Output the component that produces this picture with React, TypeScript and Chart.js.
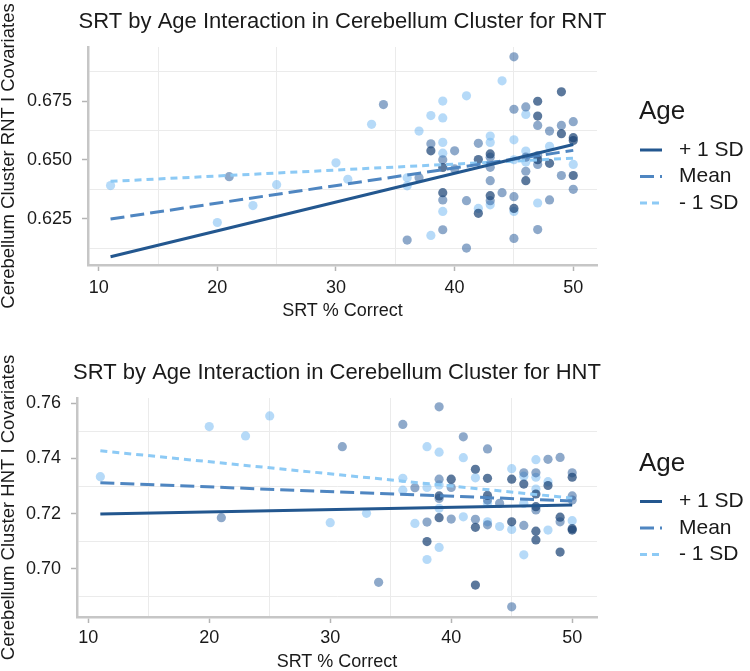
import { useEffect, useRef } from 'react';
import { Chart, registerables } from 'chart.js';

Chart.register(...registerables);

const FONT = '"Liberation Sans", Arial, Helvetica, sans-serif';
const TEXT = '#1a1a1a';
const GRID = '#ebebeb';
const AXIS = '#c6c6c6';
const TICK = '#b4b4b4';

// Shared x axis (SRT % correct)
const xMajorTicks = [10, 20, 30, 40, 50];
const xGridLines = [15, 25, 35, 45];
const xTitle = 'SRT % Correct';

// Regression lines evaluated at the ends of the observed SRT range
const fitX = [11, 50];

// Legend
const legendTitle = 'Age';
const legendLabels = ['+ 1 SD', 'Mean', '- 1 SD'];
const lineColors = ['#23578f', '#4f86c1', '#8dcaf5'];
const lineDashes: number[][] = [[], [14, 6], [7, 5]];
const pointColors = ['rgba(28, 68, 118, 0.72)', 'rgba(50, 98, 158, 0.55)', 'rgba(115, 185, 242, 0.52)'];

// ---------- RNT panel ----------
const rntTitle = 'SRT by Age Interaction in Cerebellum Cluster for RNT';
const rntYTitle = 'Cerebellum Cluster RNT I Covariates';
const rntYMajor = [0.625, 0.65, 0.675];
const rntYGrid = [0.6125, 0.6375, 0.6625, 0.6875];
const rntFitPlus = [0.6088, 0.6566];
const rntFitMean = [0.6249, 0.6541];
const rntFitMinus = [0.6409, 0.6508];

const rntPointsOlder: [number, number][] = [
  [49, 0.679], [47, 0.675], [47, 0.6687], [49, 0.6612], [50, 0.6595], [50, 0.6583],
  [38, 0.6539], [39, 0.6468], [42, 0.6502], [43, 0.6526], [43, 0.6348], [42, 0.6273],
  [45, 0.6294], [46, 0.6412], [47, 0.6501], [48, 0.6486], [50, 0.6434], [39, 0.6361],
];
const rntPointsMid: [number, number][] = [
  [45, 0.6939], [34, 0.6736], [45, 0.6716], [46, 0.6726], [47, 0.6647], [48, 0.6623],
  [49, 0.6647], [50, 0.6663], [38, 0.6569], [39, 0.6501], [40, 0.6539], [40, 0.6462],
  [42, 0.6571], [43, 0.6512], [43, 0.6469], [43, 0.6412], [43, 0.6327], [41, 0.6327],
  [41, 0.6125], [44, 0.6361], [45, 0.6344], [45, 0.6166], [46, 0.6512], [46, 0.6452],
  [47, 0.6519], [47, 0.6481], [47, 0.6204], [48, 0.633], [49, 0.6434], [50, 0.6375],
  [36, 0.6159], [37, 0.6424], [39, 0.633], [39, 0.6203], [21, 0.6429],
];
const rntPointsYounger: [number, number][] = [
  [44, 0.6837], [41, 0.6773], [39, 0.6751], [33, 0.6652], [37, 0.6623], [38, 0.6689],
  [39, 0.6679], [39, 0.6575], [39, 0.6529], [43, 0.6602], [43, 0.6575], [43, 0.6309],
  [42, 0.6294], [45, 0.6586], [45, 0.6501], [45, 0.6281], [46, 0.6694], [46, 0.6538],
  [46, 0.6491], [47, 0.6317], [48, 0.6558], [50, 0.6481], [36, 0.6424], [36, 0.639],
  [38, 0.6179], [39, 0.6281], [30, 0.6488], [11, 0.6391], [20, 0.6234], [23, 0.6306],
  [25, 0.6395], [31, 0.6418],
];

// ---------- HNT panel ----------
const hntTitle = 'SRT by Age Interaction in Cerebellum Cluster for HNT';
const hntYTitle = 'Cerebellum Cluster HNT I Covariates';
const hntYMajor = [0.7, 0.72, 0.74, 0.76];
const hntYGrid = [0.69, 0.71, 0.73, 0.75];
const hntFitPlus = [0.7198, 0.7231];
const hntFitMean = [0.7312, 0.7246];
const hntFitMinus = [0.7428, 0.7256];

const hntPointsOlder: [number, number][] = [
  [42, 0.7361], [43, 0.7328], [45, 0.7325], [46, 0.7307], [47, 0.7271], [48, 0.7302],
  [50, 0.7332], [39, 0.7264], [40, 0.7325], [43, 0.7266], [47, 0.7225], [39, 0.7185],
  [42, 0.715], [45, 0.717], [47, 0.7136], [47, 0.7104], [49, 0.7187], [50, 0.7145],
  [50, 0.714], [49, 0.706], [38, 0.7098], [42, 0.694],
];
const hntPointsMid: [number, number][] = [
  [39, 0.7588], [36, 0.7524], [41, 0.7479], [31, 0.7443], [43, 0.7435], [46, 0.7348],
  [47, 0.7348], [48, 0.7397], [49, 0.7404], [50, 0.7348], [50, 0.7264], [50, 0.7249],
  [37, 0.7294], [39, 0.7325], [39, 0.7255], [40, 0.7295], [43, 0.7249], [44, 0.7237],
  [47, 0.7213], [40, 0.718], [42, 0.7179], [43, 0.7159], [46, 0.7157], [49, 0.717],
  [34, 0.695], [45, 0.6861], [38, 0.7169], [21, 0.7185],
];
const hntPointsYounger: [number, number][] = [
  [38, 0.7443], [39, 0.7423], [41, 0.7403], [42, 0.733], [45, 0.7363], [46, 0.7336],
  [47, 0.7396], [47, 0.7332], [47, 0.7289], [48, 0.7316], [36, 0.7328], [36, 0.7285],
  [38, 0.7295], [39, 0.7304], [43, 0.7237], [46, 0.7237], [39, 0.7219], [41, 0.7188],
  [43, 0.717], [44, 0.7153], [45, 0.7142], [48, 0.714], [50, 0.7174], [46, 0.705],
  [39, 0.7077], [38, 0.7033], [33, 0.7201], [30, 0.7167], [37, 0.7164], [11, 0.7334],
  [20, 0.7516], [23, 0.7482], [25, 0.7555],
];

type PanelSpec = {
  title: string;
  yTitle: string;
  yMajor: number[];
  yGrid: number[];
  yDecimals: number;
  yMin: number;
  yMax: number;
  xMin: number;
  xMax: number;
  height: number;
  padTop: number;
  padBottom: number;
  yAxisWidth: number;
  xAxisHeight: number;
  xLabelPad: number;
  fits: number[][];
  points: [number, number][][];
};

const rntPanel: PanelSpec = {
  title: rntTitle,
  yTitle: rntYTitle,
  yMajor: rntYMajor,
  yGrid: rntYGrid,
  yDecimals: 3,
  yMin: 0.6053,
  yMax: 0.6981,
  xMin: 9.1,
  xMax: 52.0,
  height: 330,
  padTop: 47,
  padBottom: 10,
  yAxisWidth: 88,
  xAxisHeight: 55,
  xLabelPad: 6,
  fits: [rntFitPlus, rntFitMean, rntFitMinus],
  points: [rntPointsOlder, rntPointsMid, rntPointsYounger],
};

const hntPanel: PanelSpec = {
  title: hntTitle,
  yTitle: hntYTitle,
  yMajor: hntYMajor,
  yGrid: hntYGrid,
  yDecimals: 2,
  yMin: 0.6824,
  yMax: 0.762,
  xMin: 9.07,
  xMax: 52.05,
  height: 341,
  padTop: 68,
  padBottom: 0,
  yAxisWidth: 77,
  xAxisHeight: 54,
  xLabelPad: 4,
  fits: [hntFitPlus, hntFitMean, hntFitMinus],
  points: [hntPointsOlder, hntPointsMid, hntPointsYounger],
};

const CLEAR = 'rgba(0,0,0,0)';

// Panel title above the plot area and the Age legend to its right
function panelDecor(spec: PanelSpec) {
  return {
    id: 'panelDecor',
    afterDraw(chart: any) {
      const { ctx, chartArea } = chart;
      const cx = (chartArea.left + chartArea.right) / 2;
      const cy = (chartArea.top + chartArea.bottom) / 2;
      ctx.save();
      ctx.fillStyle = TEXT;
      ctx.textBaseline = 'middle';
      ctx.textAlign = 'center';
      ctx.font = `22px ${FONT}`;
      ctx.fillText(spec.title, cx, chartArea.top - 25);

      const lx = chartArea.right + 42;
      ctx.textAlign = 'left';
      ctx.font = `26px ${FONT}`;
      ctx.fillText(legendTitle, lx, cy - 44);
      ctx.font = `21px ${FONT}`;
      legendLabels.forEach((label, i) => {
        const y = cy - 6 + i * 26.5;
        ctx.strokeStyle = lineColors[i];
        ctx.lineWidth = 3;
        ctx.lineCap = 'butt';
        ctx.setLineDash(lineDashes[i]);
        ctx.beginPath();
        ctx.moveTo(lx + 1, y);
        ctx.lineTo(lx + 23, y);
        ctx.stroke();
        ctx.setLineDash([]);
        ctx.fillText(label, lx + 40, y);
      });
      ctx.restore();
    },
  };
}

function buildConfig(spec: PanelSpec): any {
  const xTicks = [...xMajorTicks, ...xGridLines].sort((a, b) => a - b);
  const yTicks = [...spec.yMajor, ...spec.yGrid].sort((a, b) => a - b);

  const fitSets = spec.fits.map((fit, i) => ({
    data: fitX.map((x, j) => ({ x, y: fit[j] })),
    showLine: true,
    borderColor: lineColors[i],
    borderWidth: 3,
    borderDash: lineDashes[i],
    borderCapStyle: 'butt',
    pointRadius: 0,
    fill: false,
    order: 0,
  }));
  const pointSets = spec.points.map((pts, i) => ({
    data: pts.map(([x, y]) => ({ x, y })),
    backgroundColor: pointColors[i],
    borderWidth: 0,
    pointRadius: 4.6,
    showLine: false,
    order: 1,
  }));

  return {
    type: 'scatter',
    data: { datasets: [...fitSets, ...pointSets] },
    options: {
      animation: false,
      responsive: false,
      events: [],
      layout: { padding: { left: 0, right: 153, top: spec.padTop, bottom: spec.padBottom } },
      plugins: { legend: { display: false }, tooltip: { enabled: false }, title: { display: false } },
      scales: {
        x: {
          type: 'linear',
          min: spec.xMin,
          max: spec.xMax,
          afterBuildTicks: (s: any) => {
            s.ticks = xTicks.map((value) => ({ value }));
          },
          afterFit: (s: any) => {
            s.height = spec.xAxisHeight;
          },
          ticks: {
            autoSkip: false,
            maxRotation: 0,
            padding: spec.xLabelPad,
            color: TEXT,
            font: { family: FONT, size: 18 },
            callback: (v: number) => (xMajorTicks.includes(v) ? String(v) : ''),
          },
          grid: {
            color: (c: any) => (c.tick && xMajorTicks.includes(c.tick.value) ? CLEAR : GRID),
            lineWidth: 1,
            drawTicks: true,
            tickLength: 6,
            tickWidth: 1.5,
            tickColor: (c: any) => (c.tick && xMajorTicks.includes(c.tick.value) ? TICK : CLEAR),
          },
          border: { display: true, color: AXIS, width: 2.5 },
          title: {
            display: true,
            text: xTitle,
            color: TEXT,
            font: { family: FONT, size: 18, lineHeight: 1 },
            padding: 0,
          },
        },
        y: {
          type: 'linear',
          min: spec.yMin,
          max: spec.yMax,
          afterBuildTicks: (s: any) => {
            s.ticks = yTicks.map((value) => ({ value }));
          },
          afterFit: (s: any) => {
            s.width = spec.yAxisWidth;
          },
          ticks: {
            autoSkip: false,
            padding: 10,
            color: TEXT,
            font: { family: FONT, size: 18 },
            callback: (v: number) => (spec.yMajor.includes(v) ? v.toFixed(spec.yDecimals) : ''),
          },
          grid: {
            color: (c: any) => (c.tick && spec.yMajor.includes(c.tick.value) ? CLEAR : GRID),
            lineWidth: 1,
            drawTicks: true,
            tickLength: 6,
            tickWidth: 1.5,
            tickColor: (c: any) => (c.tick && spec.yMajor.includes(c.tick.value) ? TICK : CLEAR),
          },
          border: { display: true, color: AXIS, width: 2.5 },
          title: {
            display: true,
            text: spec.yTitle,
            color: TEXT,
            font: { family: FONT, size: 18.5, lineHeight: 1 },
            padding: 0,
          },
        },
      },
    },
    plugins: [panelDecor(spec)],
  };
}

function Panel({ spec }: { spec: PanelSpec }) {
  const ref = useRef<HTMLCanvasElement | null>(null);
  useEffect(() => {
    if (!ref.current) return;
    const chart = new Chart(ref.current, buildConfig(spec));
    return () => chart.destroy();
  }, [spec]);
  return <canvas ref={ref} width={750} height={spec.height} style={{ display: 'block', width: 750, height: spec.height }} />;
}

export default function App() {
  return (
    <div style={{ position: 'absolute', left: 0, top: 0, width: 750, height: 671, background: '#fff' }}>
      <Panel spec={rntPanel} />
      <Panel spec={hntPanel} />
    </div>
  );
}
